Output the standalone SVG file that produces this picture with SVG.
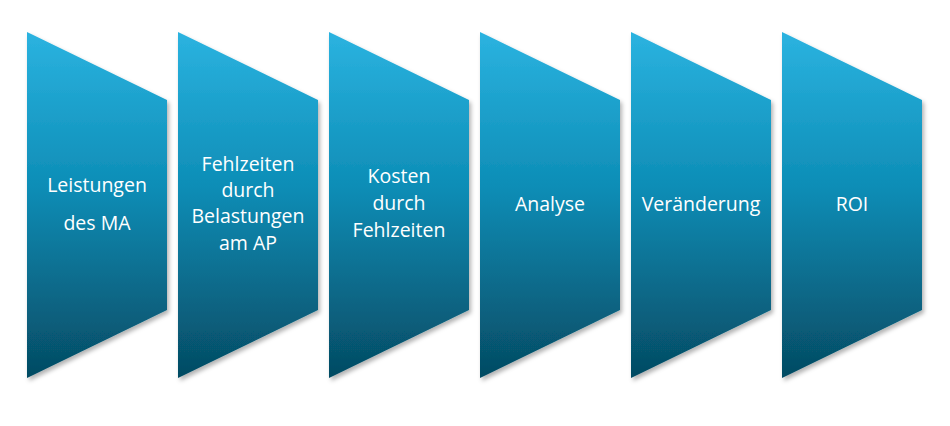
<svg xmlns="http://www.w3.org/2000/svg" width="950" height="426" viewBox="0 0 950 426">
<defs>
<linearGradient id="g" x1="0" y1="0" x2="0" y2="1">
<stop offset="0" stop-color="#2BB3E0"/>
<stop offset="0.45" stop-color="#0D8DB6"/>
<stop offset="1" stop-color="#054A62"/>
</linearGradient>
<filter id="sh" x="-10%" y="-10%" width="125%" height="125%">
<feDropShadow dx="2" dy="3" stdDeviation="2" flood-color="#000" flood-opacity="0.3"/>
</filter>
<path id="shape" d="M0,32 L140,100 L140,310 L0,378 Z"/>
</defs>
<style>
.s{fill:url(#g);filter:url(#sh)}
text{font-family:"Open Sans","Liberation Sans",sans-serif;font-size:19.5px;fill:#fff;text-anchor:middle}
</style>
<g id="n1"><use href="#shape" class="s" x="27"/><text x="97" y="192">Leistungen</text><text x="97" y="230">des MA</text></g>
<g id="n2"><use href="#shape" class="s" x="178"/><text x="248" y="171">Fehlzeiten</text><text x="248" y="197">durch</text><text x="248" y="223">Belastungen</text><text x="248" y="250">am AP</text></g>
<g id="n3"><use href="#shape" class="s" x="329"/><text x="399" y="183">Kosten</text><text x="399" y="210">durch</text><text x="399" y="237">Fehlzeiten</text></g>
<g id="n4"><use href="#shape" class="s" x="480"/><text x="550" y="211">Analyse</text></g>
<g id="n5"><use href="#shape" class="s" x="631"/><text x="701" y="211">Veränderung</text></g>
<g id="n6"><use href="#shape" class="s" x="782"/><text x="852" y="211">ROI</text></g>
<g id="connectors"/>
</svg>
